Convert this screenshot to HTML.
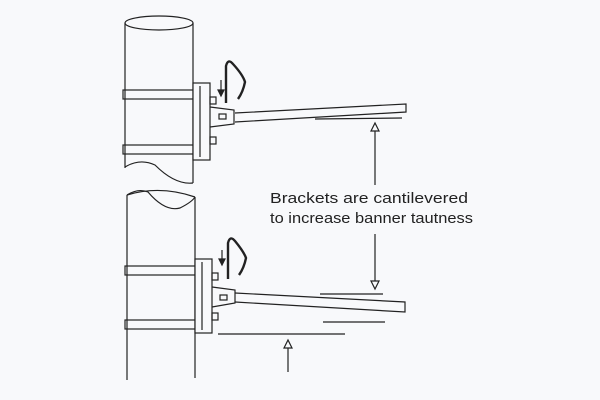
<!DOCTYPE html>
<html><head><meta charset="utf-8"><style>
html,body{margin:0;padding:0;background:#f8f9fb;width:600px;height:400px;overflow:hidden}
svg{display:block}
text{font-family:"Liberation Sans","DejaVu Sans",sans-serif;font-size:15px;fill:#222}
</style></head><body>
<svg width="600" height="400" viewBox="0 0 600 400" fill="none" stroke="#222" stroke-width="1.2">
<!-- TOP POLE -->
<ellipse cx="159" cy="23" rx="34" ry="7" fill="#f8f9fb"/>
<line x1="125" y1="23" x2="125" y2="168"/>
<line x1="193" y1="23" x2="193" y2="183"/>
<path d="M125 167 Q140 158 155 165 Q175 185 193 183"/>
<rect x="123" y="90" width="77" height="9"/>
<rect x="123" y="145" width="77" height="9"/>
<rect x="193" y="83" width="17" height="77" fill="#f8f9fb"/>
<line x1="200" y1="86" x2="200" y2="157"/>
<rect x="210" y="97" width="6" height="7"/><rect x="210" y="137" width="6" height="7"/>
<path d="M210 107 L234 110 L234 124 L210 127"/>
<rect x="219" y="114" width="7" height="5"/>
<path d="M235 113 L406 104 L406 112 L235 122"/>
<line x1="315" y1="119" x2="402" y2="118"/>
<line x1="375" y1="185" x2="375" y2="131"/>
<path d="M371 131 L375 123 L379 131 Z" fill="#f8f9fb"/>
<path d="M226 103 L226 66 Q228 58 233 64 Q243 75 245 82 Q243 92 238 99" stroke-width="2.4"/>
<line x1="221" y1="80" x2="221" y2="94"/>
<path d="M218 90 L221 96 L224 90 Z" fill="#222"/>
<!-- BOTTOM POLE -->
<path d="M127 195 Q138 188 148 192 Q165 212 180 208 Q192 202 195 197"/>
<path d="M127 195 Q160 185 195 197" />
<line x1="127" y1="195" x2="127" y2="380"/>
<line x1="195" y1="197" x2="195" y2="378"/>
<rect x="125" y="266" width="78" height="9"/>
<rect x="125" y="320" width="78" height="9"/>
<rect x="195" y="259" width="17" height="74" fill="#f8f9fb"/>
<line x1="202" y1="262" x2="202" y2="330"/>
<rect x="212" y="273" width="6" height="7"/><rect x="212" y="313" width="6" height="7"/>
<path d="M212 287 L235 290 L235 303 L212 307"/>
<rect x="220" y="295" width="7" height="5"/>
<path d="M235 293 L405 302 L405 312 L235 302"/>
<line x1="320" y1="294" x2="383" y2="294"/>
<line x1="323" y1="322" x2="385" y2="322"/>
<line x1="218" y1="334" x2="345" y2="334"/>
<line x1="375" y1="234" x2="375" y2="281"/>
<path d="M371 281 L375 289 L379 281 Z" fill="#f8f9fb"/>
<line x1="288" y1="372" x2="288" y2="348"/>
<path d="M284 348 L288 340 L292 348 Z" fill="#f8f9fb"/>
<path d="M228 279 L228 243 Q230 235 235 241 Q244 252 246 258 Q244 268 239 275" stroke-width="2.4"/>
<line x1="222" y1="250" x2="222" y2="263"/>
<path d="M219 259 L222 265 L225 259 Z" fill="#222"/>
<text x="270" y="203" textLength="198" lengthAdjust="spacingAndGlyphs" stroke="none">Brackets are cantilevered</text>
<text x="270" y="223" textLength="203" lengthAdjust="spacingAndGlyphs" stroke="none">to increase banner tautness</text>
</svg>
</body></html>
